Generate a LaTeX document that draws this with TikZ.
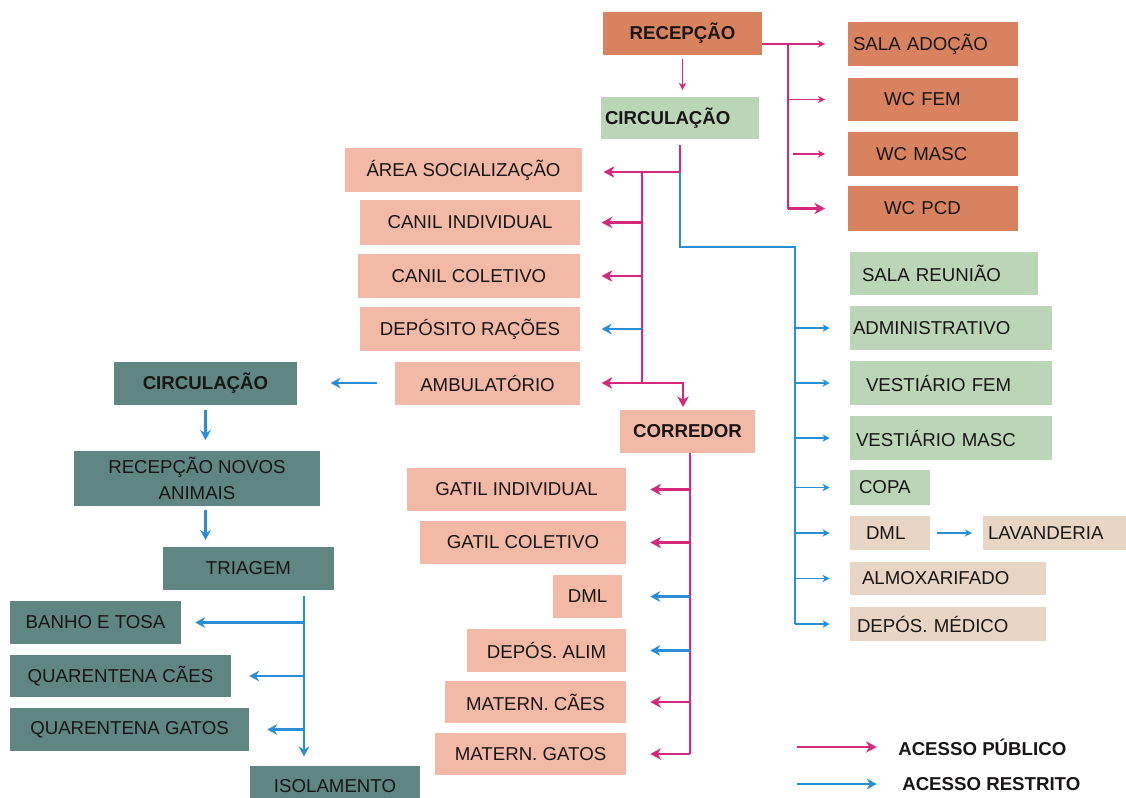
\documentclass[tikz,border=0pt]{standalone}
\usepackage{fontspec}
\setmainfont{Liberation Sans}
\usetikzlibrary{arrows.meta}
\definecolor{boxorange}{RGB}{217,130,96}
\definecolor{boxsalmon}{RGB}{242,186,166}
\definecolor{boxgreen}{RGB}{186,214,182}
\definecolor{boxteal}{RGB}{96,134,129}
\definecolor{boxbeige}{RGB}{233,213,195}
\definecolor{linemagenta}{RGB}{212,40,125}
\definecolor{lineblue}{RGB}{40,143,214}
\definecolor{textdark}{RGB}{25,22,22}
\tikzset{
    room-box/.style = {rectangle, inner sep=0pt, align=center, text=textdark, font=\fontsize{14}{16}\selectfont},
    box-wd/.style = {minimum width=#1*0.75pt},
    box-ht/.style = {minimum height=#1*0.75pt},
    flush-left/.style = {align=left, text width=#1},
    title-font/.style = {font=\fontsize{14}{16}\selectfont\bfseries},
    orange-box/.style = {room-box, fill=boxorange},
    salmon-box/.style = {room-box, fill=boxsalmon},
    green-box/.style = {room-box, fill=boxgreen},
    teal-box/.style = {room-box, fill=boxteal},
    beige-box/.style = {room-box, fill=boxbeige},
    legend-label/.style = {inner sep=0pt, anchor=west, text=textdark, font=\fontsize{14}{16}\selectfont\bfseries},
    public-arrow/.style = {draw=linemagenta, line width=2.2pt, -{Stealth[length=8pt,width=8.5pt,inset=2.5pt]}},
    public-thin/.style = {draw=linemagenta, line width=1.1pt, -{Stealth[length=5.5pt,width=5.5pt]}},
    restricted-arrow/.style = {draw=lineblue, line width=1.8pt, -{Stealth[length=7.5pt,width=8pt,inset=2.5pt]}},
    restricted-thin/.style = {draw=lineblue, line width=1.1pt, -{Stealth[length=5.5pt,width=5.5pt]}},
}
\begin{document}
\begin{tikzpicture}[x=0.75pt, y=-0.75pt]
\useasboundingbox (0,0) rectangle (1126,797);

% public block
\node[orange-box, title-font, box-wd=159, box-ht=43] (recepcao) at (682.5,33.5) {RECEPÇÃO};
\node[green-box, title-font, box-wd=158, box-ht=42, inner xsep=3pt, flush-left=112.5pt] (circ-pub) at (680,118) {CIRCULAÇÃO};
\node[orange-box, box-wd=170, box-ht=44, inner xsep=3.75pt, flush-left=120pt] (sala-adocao) at (933,44) {SALA ADOÇÃO};
\node[orange-box, box-wd=170, box-ht=43, inner xsep=27pt, flush-left=73.5pt] (wc-fem) at (933,99.5) {WC FEM};
\node[orange-box, box-wd=170, box-ht=44, inner xsep=21pt, flush-left=85.5pt] (wc-masc) at (933,154) {WC MASC};
\node[orange-box, box-wd=170, box-ht=45, inner xsep=27pt, flush-left=73.5pt] (wc-pcd) at (933,208.5) {WC PCD};

% kennels
\node[salmon-box, box-wd=237, box-ht=44] (area-soc) at (463.5,170) {ÁREA SOCIALIZAÇÃO};
\node[salmon-box, box-wd=220, box-ht=45] (canil-ind) at (470,222.5) {CANIL INDIVIDUAL};
\node[salmon-box, box-wd=222, box-ht=44] (canil-col) at (469,276) {CANIL COLETIVO};
\node[salmon-box, box-wd=220, box-ht=44] (deposito-racoes) at (470,329) {DEPÓSITO RAÇÕES};
\node[salmon-box, box-wd=185, box-ht=43] (ambulatorio) at (487.5,383) {AMBULATÓRIO};
\node[salmon-box, title-font, box-wd=135, box-ht=43] (corredor) at (687.5,431.5) {CORREDOR};

% cattery
\node[salmon-box, box-wd=219, box-ht=43] (gatil-ind) at (516.5,489.5) {GATIL INDIVIDUAL};
\node[salmon-box, box-wd=206, box-ht=43] (gatil-col) at (523,542.5) {GATIL COLETIVO};
\node[salmon-box, box-wd=69, box-ht=43] (dml-gatil) at (587.5,596.5) {DML};
\node[salmon-box, box-wd=159, box-ht=43] (depos-alim) at (546.5,650.5) {DEPÓS. ALIM};
\node[salmon-box, box-wd=181, box-ht=42] (matern-caes) at (535.5,702) {MATERN. CÃES};
\node[salmon-box, box-wd=191, box-ht=42] (matern-gatos) at (530.5,754) {MATERN. GATOS};

% new animals
\node[teal-box, title-font, box-wd=183, box-ht=43] (circ-rest) at (205.5,383) {CIRCULAÇÃO};
\node[teal-box, box-wd=246, box-ht=55, font=\fontsize{14}{19.5}\selectfont] (recep-novos) at (197,478.5) {RECEPÇÃO NOVOS\\ANIMAIS};
\node[teal-box, box-wd=171, box-ht=43] (triagem) at (248.5,568.5) {TRIAGEM};
\node[teal-box, box-wd=171, box-ht=43] (banho-tosa) at (95.5,622.5) {BANHO E TOSA};
\node[teal-box, box-wd=221, box-ht=42] (quar-caes) at (120.5,676) {QUARENTENA CÃES};
\node[teal-box, box-wd=239, box-ht=43] (quar-gatos) at (129.5,729.5) {QUARENTENA GATOS};
\node[teal-box, box-wd=170, box-ht=40] (isolamento) at (335,786) {ISOLAMENTO};

% staff
\node[green-box, box-wd=188, box-ht=43, inner xsep=9pt, flush-left=123pt] (sala-reuniao) at (944,273.5) {SALA REUNIÃO};
\node[green-box, box-wd=202, box-ht=44, inner xsep=2.25pt, flush-left=147pt] (administrativo) at (951,328) {ADMINISTRATIVO};
\node[green-box, box-wd=202, box-ht=44, inner xsep=12pt, flush-left=127.5pt] (vest-fem) at (951,383) {VESTIÁRIO FEM};
\node[green-box, box-wd=202, box-ht=44, inner xsep=4.5pt, flush-left=142.5pt] (vest-masc) at (951,438) {VESTIÁRIO MASC};
\node[green-box, box-wd=80, box-ht=35, inner xsep=6.75pt, flush-left=46.5pt] (copa) at (890,487.5) {COPA};
\node[beige-box, box-wd=80, box-ht=34, inner xsep=12pt, flush-left=36pt] (dml-staff) at (890,533) {DML};
\node[beige-box, box-wd=143, box-ht=34, inner xsep=3.75pt, flush-left=99.75pt] (lavanderia) at (1054.5,533) {LAVANDERIA};
\node[beige-box, box-wd=196, box-ht=33, inner xsep=9pt, flush-left=129pt] (almoxarifado) at (948,578.5) {ALMOXARIFADO};
\node[beige-box, box-wd=196, box-ht=34, inner xsep=5.25pt, flush-left=136.5pt] (depos-medico) at (948,624) {DEPÓS. MÉDICO};

% buses
\coordinate (recep-bus) at (788,40);
\coordinate (c-split) at (680,172);
\coordinate (soc-bus) at (642,172);
\coordinate (adm-bus) at (795,247);
\coordinate (cor-bus) at (690,460);
\coordinate (tri-bus) at (304,600);

% reception
\draw[public-thin, shorten <=3pt, shorten >=5pt] (recepcao.south) -- (recepcao.south |- circ-pub.north);
\draw[public-thin, shorten >=17pt] (recepcao.east |- sala-adocao) -- (sala-adocao.west);
\draw[public-thin, -] (recep-bus |- sala-adocao) -- (recep-bus |- wc-pcd);
\draw[public-thin, shorten >=17pt] (recep-bus |- wc-fem) -- (wc-fem.west);
\draw[public-thin, shorten <=4pt, shorten >=17pt] (recep-bus |- wc-masc) -- (wc-masc.west);
\draw[public-arrow, shorten >=17pt] (recep-bus |- wc-pcd) -- (wc-pcd.west);

% circulation to kennels
\draw[public-arrow, -, shorten <=4pt] (circ-pub.south) -- (c-split);
\draw[public-arrow, shorten >=16pt] (c-split) -- (area-soc.east |- c-split);
\draw[public-arrow, shorten >=2pt] (soc-bus) -- (soc-bus |- ambulatorio) -| ([xshift=-3.4pt]corredor.north);
\draw[public-arrow, shorten >=16pt] (soc-bus |- canil-ind) -- (canil-ind.east);
\draw[public-arrow, shorten >=16pt] (soc-bus |- canil-col) -- (canil-col.east);
\draw[restricted-arrow, shorten >=16pt] (soc-bus |- deposito-racoes) -- (deposito-racoes.east);
\draw[public-arrow, shorten >=16pt] (soc-bus |- ambulatorio) -- (ambulatorio.east);

% circulation to staff
\draw[restricted-arrow, -] (c-split) |- (adm-bus) -- (adm-bus |- depos-medico);
\draw[restricted-thin, shorten >=15pt] (adm-bus |- administrativo) -- (administrativo.west);
\draw[restricted-thin, shorten >=15pt] (adm-bus |- vest-fem) -- (vest-fem.west);
\draw[restricted-thin, shorten >=15pt] (adm-bus |- vest-masc) -- (vest-masc.west);
\draw[restricted-thin, shorten >=15pt] (adm-bus |- copa) -- (copa.west);
\draw[restricted-thin, shorten >=15pt] (adm-bus |- dml-staff) -- (dml-staff.west);
\draw[restricted-thin, shorten >=15pt] (adm-bus |- almoxarifado) -- (almoxarifado.west);
\draw[restricted-thin, shorten >=15pt] (adm-bus |- depos-medico) -- (depos-medico.west);
\draw[restricted-thin, shorten <=5pt, shorten >=8pt] (dml-staff.east) -- (lavanderia.west);

% corridor
\draw[public-arrow, -] (corredor.south -| cor-bus) -- (cor-bus |- matern-gatos);
\draw[public-arrow, shorten >=18pt] (cor-bus |- gatil-ind) -- (gatil-ind.east);
\draw[public-arrow, shorten >=18pt] (cor-bus |- gatil-col) -- (gatil-col.east);
\draw[restricted-arrow, shorten >=21pt] (cor-bus |- dml-gatil) -- (dml-gatil.east);
\draw[restricted-arrow, shorten >=18pt] (cor-bus |- depos-alim) -- (depos-alim.east);
\draw[public-arrow, shorten >=18pt] (cor-bus |- matern-caes) -- (matern-caes.east);
\draw[public-arrow, shorten >=18pt] (cor-bus |- matern-gatos) -- (matern-gatos.east);

% new animals flow
\draw[restricted-arrow, shorten <=13pt, shorten >=25pt] (ambulatorio.west) -- (circ-rest.east);
\draw[restricted-arrow, shorten <=4pt, shorten >=8pt] (circ-rest.south) -- (circ-rest.south |- recep-novos.north);
\draw[restricted-arrow, shorten <=3pt, shorten >=5pt] (circ-rest.south |- recep-novos.south) -- (circ-rest.south |- triagem.north);
\draw[restricted-arrow, shorten <=4pt, shorten >=7pt] (triagem.south -| tri-bus) -- (tri-bus |- isolamento.north);
\draw[restricted-arrow, shorten >=10.5pt] (tri-bus |- banho-tosa) -- (banho-tosa.east);
\draw[restricted-arrow, shorten >=13.5pt] (tri-bus |- quar-caes) -- (quar-caes.east);
\draw[restricted-arrow, shorten >=13.5pt] (tri-bus |- quar-gatos) -- (quar-gatos.east);

% legend
\node[legend-label] (leg-public) at (898,747) {ACESSO PÚBLICO};
\node[legend-label] (leg-restricted) at (902,784) {ACESSO RESTRITO};
\coordinate (leg-public-tail) at (797,747);
\coordinate (leg-restricted-tail) at (797,784);
\draw[public-arrow, shorten >=16pt] (leg-public-tail) -- (leg-public.west);
\draw[restricted-arrow, shorten >=19pt] (leg-restricted-tail) -- (leg-restricted.west);
\end{tikzpicture}
\end{document}
